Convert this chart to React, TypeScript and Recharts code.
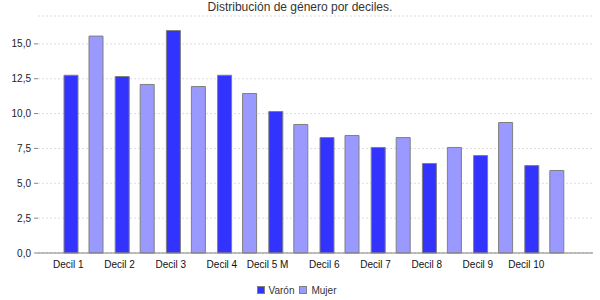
import React from 'react';
import { BarChart, Bar, XAxis, YAxis, CartesianGrid, Legend } from 'recharts';

const title = 'Distribución de género por deciles.';
const categories = ['Decil 1', 'Decil 2', 'Decil 3', 'Decil 4', 'Decil 5 M', 'Decil 6', 'Decil 7', 'Decil 8', 'Decil 9', 'Decil 10'];
const varon = [12.75, 12.66, 15.96, 12.75, 10.15, 8.28, 7.57, 6.42, 6.99, 6.27];
const mujer = [15.56, 12.09, 11.94, 11.44, 9.22, 8.43, 8.28, 7.57, 9.36, 5.92];
const seriesNames = ['Varón', 'Mujer'];
const seriesColors = ['#3333FF', '#9999FF'];
const yTicks = [0, 2.5, 5, 7.5, 10, 12.5, 15];

const data = categories.map((c, i) => ({ name: c, varon: varon[i], mujer: mujer[i] }));

const FONT = '"Liberation Sans", Arial, sans-serif';

const XTick = (props: any) => {
  const { x, y, payload } = props;
  return (
    <text x={x} y={y} dy="0.71em" textAnchor="end" fontFamily={FONT} fontSize={10} fill="#111">
      {payload.value}
    </text>
  );
};

const LegendContent = () => (
  <div style={{ display: 'flex', justifyContent: 'center', alignItems: 'center', height: 14, fontFamily: FONT, fontSize: 10, color: '#333' }}>
    {seriesNames.map((n, i) => (
      <div key={n} style={{ display: 'flex', alignItems: 'center', marginRight: i === 0 ? 5 : 0 }}>
        <svg width={8} height={8} style={{ marginRight: 4 }}>
          <rect x={0.5} y={0.5} width={7} height={7} fill={seriesColors[i]} stroke="#808080" strokeWidth={1} />
        </svg>
        <span>{n}</span>
      </div>
    ))}
  </div>
);

export default function App() {
  return (
    <div style={{ position: 'absolute', left: 0, top: 0, width: 600, height: 300, background: '#fff' }}>
      <div style={{ position: 'absolute', left: 0, top: 0, width: 600, textAlign: 'center', fontFamily: FONT, fontSize: 12, lineHeight: '14px', color: '#333' }}>
        {title}
      </div>
      <BarChart width={600} height={300} data={data} margin={{ top: 16, right: 7, left: 0, bottom: 3 }} barSize={14} barGap={11}>
        <CartesianGrid vertical={false} stroke="#dddddd" strokeDasharray="2 2" />
        <YAxis
          width={38}
          domain={[0, 17]}
          ticks={yTicks}
          interval={0}
          axisLine={false}
          tickLine={{ stroke: '#888888' }}
          tickSize={4}
          tickMargin={3}
          tick={{ fontFamily: FONT, fontSize: 10, fill: '#222' }}
          tickFormatter={(v: number) => v.toFixed(1).replace('.', ',')}
        />
        <XAxis
          dataKey="name"
          interval={0}
          padding={{ left: 20, right: 23 }}
          axisLine={{ stroke: '#808080' }}
          tickLine={false}
          tick={<XTick />}
          height={30}
        />
        <Legend verticalAlign="bottom" height={14} content={<LegendContent />} />
        <Bar dataKey="varon" name={seriesNames[0]} fill={seriesColors[0]} stroke="#808080" strokeWidth={1} isAnimationActive={false} />
        <Bar dataKey="mujer" name={seriesNames[1]} fill={seriesColors[1]} stroke="#808080" strokeWidth={1} isAnimationActive={false} />
      </BarChart>
    </div>
  );
}
